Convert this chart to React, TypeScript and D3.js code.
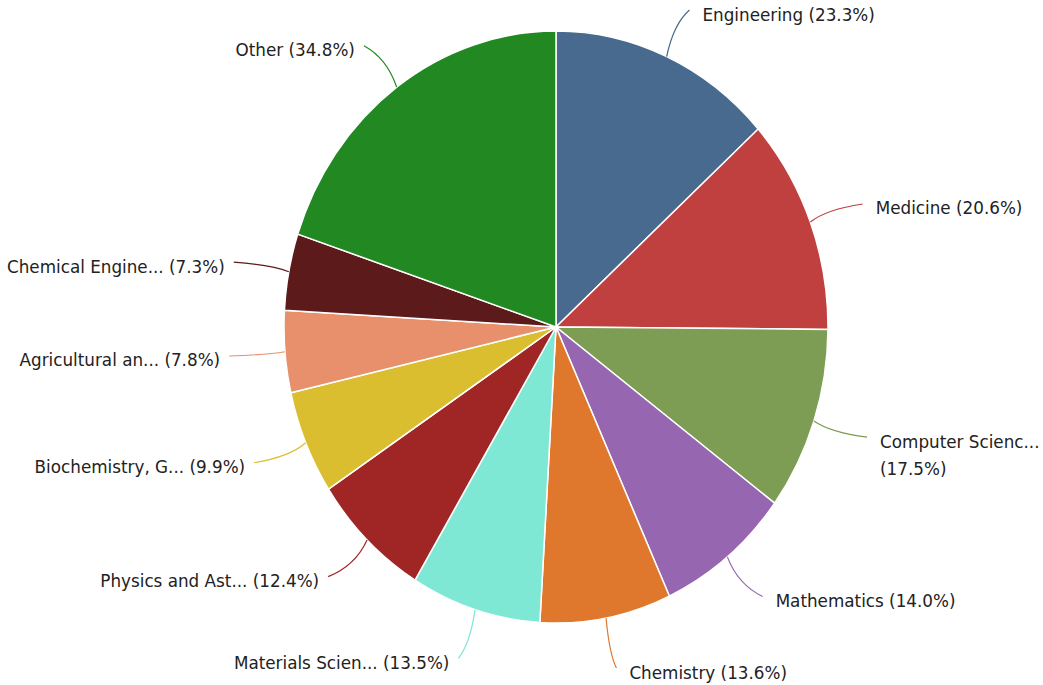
import React, { useEffect, useRef } from "react";
import * as d3 from "d3";

const categories = [
  "Engineering",
  "Medicine",
  "Computer Scienc...",
  "Mathematics",
  "Chemistry",
  "Materials Scien...",
  "Physics and Ast...",
  "Biochemistry, G...",
  "Agricultural an...",
  "Chemical Engine...",
  "Other",
];
const values = [23.3, 20.6, 17.5, 14.0, 13.6, 13.5, 12.4, 9.9, 7.8, 7.3, 34.8];
const colors = [
  "#486a8e",
  "#c03f3f",
  "#7d9d54",
  "#9667b0",
  "#df782d",
  "#7fe8d5",
  "#a02626",
  "#dabe2f",
  "#e8906c",
  "#5c1a1a",
  "#228822",
];

const W = 1043;
const H = 685;
const CX = 556;
const CY = 327;
const RX = 272;
const RY = 296;
const LX = 328;
const LY = 347;
const FONT = "'DejaVu Sans', sans-serif";
const FS = 16.8;

export default function App() {
  const ref = useRef<SVGSVGElement>(null);
  useEffect(() => {
    const svg = d3.select(ref.current);
    svg.selectAll("*").remove();
    const data = categories.map((c, i) => ({ c, v: values[i], col: colors[i] }));
    const pie = d3.pie<any>().sort(null).value((d: any) => d.v);
    const arcs = pie(data);
    const arc = d3.arc<any>().innerRadius(0).outerRadius(RX);
    const g = svg
      .append("g")
      .attr("transform", `translate(${CX},${CY}) scale(1,${RY / RX})`);
    g.selectAll("path")
      .data(arcs)
      .enter()
      .append("path")
      .attr("d", arc as any)
      .attr("fill", (d: any) => d.data.col)
      .attr("stroke", "#fff")
      .attr("stroke-width", 1.5)
      .attr("vector-effect", "non-scaling-stroke");

    const lg = svg.append("g");
    arcs.forEach((a: any) => {
      const m = (a.startAngle + a.endAngle) / 2;
      const sx = CX + RX * Math.sin(m);
      const sy = CY - RY * Math.cos(m);
      const ex = CX + LX * Math.sin(m);
      const ey = CY - LY * Math.cos(m);
      const qx = sx + 0.3 * (ex - sx);
      const qy = sy + 0.7 * (ey - sy);
      lg.append("path")
        .attr("d", `M${sx},${sy}Q${qx},${qy} ${ex},${ey}`)
        .attr("fill", "none")
        .attr("stroke", a.data.col)
        .attr("stroke-width", 1.2);
      const right = Math.sin(m) >= 0;
      const tx = right ? ex + 13 : ex - 9;
      const label = `${a.data.c} (${a.data.v.toFixed(1)}%)`;
      const t = lg
        .append("text")
        .attr("x", tx)
        .attr("y", ey + 4.5)
        .attr("dominant-baseline", "central")
        .attr("text-anchor", right ? "start" : "end")
        .attr("font-family", FONT)
        .attr("font-size", FS)
        .attr("fill", "#222")
        .text(label);
      const node = t.node() as SVGTextElement;
      if (right && tx + node.getComputedTextLength() > W - 4) {
        t.text(null);
        t.append("tspan").attr("x", tx).text(a.data.c);
        t.append("tspan")
          .attr("x", tx)
          .attr("dy", 27)
          .text(`(${a.data.v.toFixed(1)}%)`);
      }
    });
  }, []);
  return (
    <svg
      ref={ref}
      width={W}
      height={H}
      style={{ position: "absolute", left: 0, top: 0, background: "#fff" }}
    />
  );
}
